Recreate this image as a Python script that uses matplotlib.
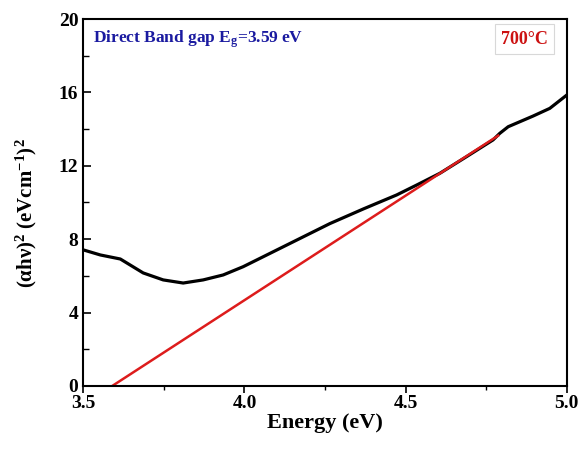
import numpy as np
import matplotlib
matplotlib.use("Agg")
import matplotlib.pyplot as plt
from matplotlib.ticker import MultipleLocator, FormatStrFormatter

plt.rcParams['font.family'] = ['Liberation Serif', 'DejaVu Serif']
plt.rcParams['mathtext.fontset'] = 'custom'
plt.rcParams['mathtext.rm'] = 'Liberation Serif:bold'
plt.rcParams['mathtext.it'] = 'Liberation Serif:bold'
plt.rcParams['mathtext.bf'] = 'Liberation Serif:bold'

# Tauc plot data, 700 C sample
energy = [3.49, 3.553, 3.615, 3.686, 3.748, 3.81, 3.872, 3.934, 3.996, 4.059,
          4.162, 4.265, 4.369, 4.472, 4.534, 4.606, 4.689, 4.771, 4.792,
          4.818, 4.895, 4.947, 5.0]
ahv2 = [7.47, 7.14, 6.92, 6.16, 5.78, 5.61, 5.78, 6.05, 6.5, 7.05,
        7.95, 8.85, 9.65, 10.41, 10.95, 11.59, 12.50, 13.41, 13.77,
        14.13, 14.71, 15.13, 15.86]

# linear fit of the absorption edge
eg = 3.59
slope = 11.4
fit_end = 4.787

fig, ax = plt.subplots(figsize=(5.82, 4.53), dpi=100)
fig.subplots_adjust(left=0.143, right=0.974, bottom=0.148, top=0.958)

ax.plot(energy, ahv2, color='black', lw=2.3)
xf = np.array([eg, fit_end])
ax.plot(xf, slope * (xf - eg), color='#dd1c1c', lw=1.8)

ax.set_xlim(3.5, 5.0)
ax.set_ylim(0, 20)
ax.xaxis.set_major_locator(MultipleLocator(0.5))
ax.xaxis.set_minor_locator(MultipleLocator(0.25))
ax.yaxis.set_major_locator(MultipleLocator(4))
ax.yaxis.set_minor_locator(MultipleLocator(2))
ax.xaxis.set_major_formatter(FormatStrFormatter('%.1f'))
ax.tick_params(axis='x', which='major', direction='out', length=5, width=1.2, pad=1.5)
ax.tick_params(axis='x', which='minor', direction='out', length=3, width=1.0)
ax.tick_params(axis='y', which='major', direction='in', length=6, width=1.2)
ax.tick_params(axis='y', which='minor', direction='in', length=4, width=1.0)
ax.tick_params(labelsize=14)
for lab in ax.get_xticklabels() + ax.get_yticklabels():
    lab.set_fontweight('bold')
for sp in ax.spines.values():
    sp.set_linewidth(1.5)

ax.set_xlabel('Energy (eV)', fontsize=16, fontweight='bold', labelpad=1)
ax.set_ylabel(r'($\alpha$h$\nu$)$^2$ (eVcm$^{-1}$)$^2$', fontsize=15,
              fontweight='bold')
ax.yaxis.set_label_coords(-0.092, 0.47)

ax.text(0.02, 0.945, r'Direct Band gap E$_\mathregular{g}$=3.59 eV',
        transform=ax.transAxes, color='#1a1aa0', fontsize=12.5,
        fontweight='bold', va='center', ha='left')
ax.text(0.912, 0.945, '700°C', transform=ax.transAxes, color='#cc1111',
        fontsize=13, fontweight='bold', va='center', ha='center',
        bbox=dict(boxstyle='square,pad=0.35', fc='white', ec='#d8d8d8', lw=0.8))

fig.savefig('out.png', dpi=100)
